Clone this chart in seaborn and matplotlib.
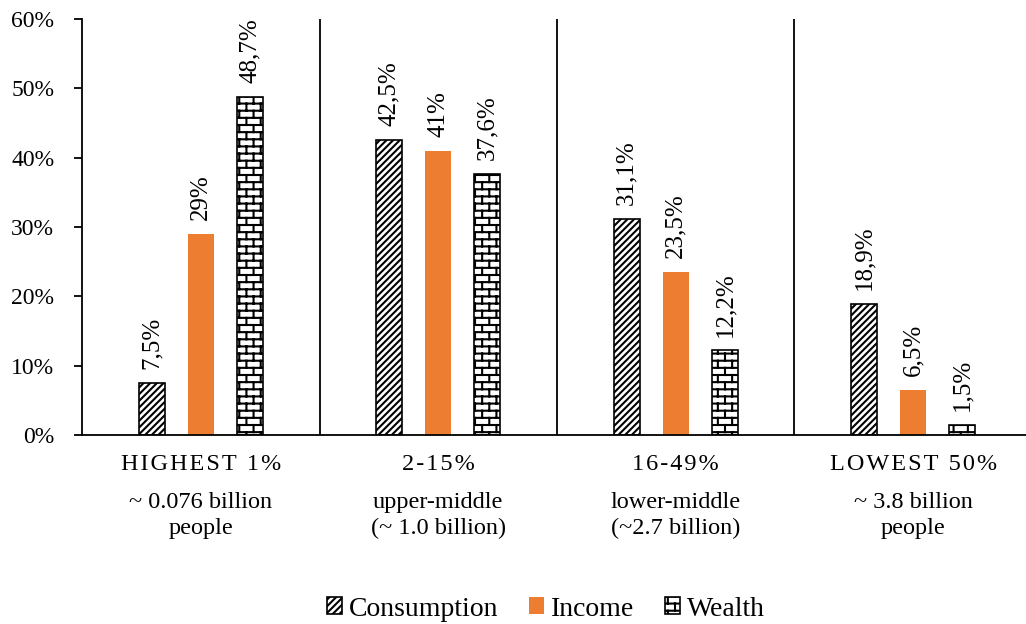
import warnings

import matplotlib
matplotlib.use("Agg")
import matplotlib.pyplot as plt
import matplotlib.hatch as mhatch
from matplotlib.path import Path
from matplotlib.ticker import FuncFormatter
import numpy as np
import pandas as pd
import seaborn as sns

warnings.filterwarnings("ignore")

# ---- data -----------------------------------------------------------------
groups = ["HIGHEST 1%", "2-15%", "16-49%", "LOWEST 50%"]
group_notes = [
    "~ 0.076 billion\npeople",
    "upper-middle\n(~ 1.0 billion)",
    "lower-middle\n(~2.7 billion)",
    "~ 3.8 billion\npeople",
]
measures = ["Consumption", "Income", "Wealth"]
consumption = [7.5, 42.5, 31.1, 18.9]
income = [29.0, 41.0, 23.5, 6.5]
wealth = [48.7, 37.6, 12.2, 1.5]
y_ticks = [0, 10, 20, 30, 40, 50, 60]


# ---- brick hatch ('b') ----------------------------------------------------
class BrickHatch(mhatch.HatchPatternBase):
    """Staggered brick courses: horizontal mortar lines plus offset joints."""

    def __init__(self, hatch, density):
        n = hatch.count("b")
        self.rows = 14 * n
        self.cols = 7
        if n:
            self.num_vertices = 2 * self.rows + 2 * (self.rows + 1) * self.cols
        else:
            self.num_vertices = 0

    def set_vertices_and_codes(self, vertices, codes):
        k = 0
        R, C = self.rows, self.cols
        for i in range(R):
            y = (i + 0.5) / R
            vertices[k] = (0.0, y)
            vertices[k + 1] = (1.0, y)
            codes[k] = Path.MOVETO
            codes[k + 1] = Path.LINETO
            k += 2
        for i in range(-1, R):
            y0 = (i + 0.5) / R
            y1 = (i + 1.5) / R
            shift = 0.5 * (i % 2)
            for j in range(C):
                x = (j + 0.25 + shift) / C
                vertices[k] = (x, y0)
                vertices[k + 1] = (x, y1)
                codes[k] = Path.MOVETO
                codes[k + 1] = Path.LINETO
                k += 2


mhatch._hatch_types.append(BrickHatch)

# ---- style ----------------------------------------------------------------
sns.set_theme(style="ticks")
plt.rcParams["font.family"] = ["Liberation Serif", "DejaVu Serif"]
plt.rcParams["hatch.linewidth"] = 1.5
plt.rcParams["hatch.color"] = "black"
for key in ("text.color", "axes.labelcolor", "xtick.color", "ytick.color",
            "axes.edgecolor"):
    plt.rcParams[key] = "black"

ORANGE = "#ED7D31"
face = {"Consumption": "white", "Income": ORANGE, "Wealth": "white"}
edge = {"Consumption": "black", "Income": ORANGE, "Wealth": "black"}
hatch = {"Consumption": "/////", "Income": None, "Wealth": "b"}

df = pd.DataFrame({
    "group": np.repeat(groups, len(measures)),
    "measure": measures * len(groups),
    "share": np.column_stack([consumption, income, wealth]).ravel(),
})

fig = plt.figure(figsize=(10.26, 6.24), dpi=100)
ax = fig.add_axes([82 / 1026, 189 / 624, 944 / 1026, 416 / 624])

sns.barplot(
    data=df, x="group", y="share", hue="measure",
    order=groups, hue_order=measures,
    palette=[face[m] for m in measures], saturation=1,
    width=0.62, gap=0.47, legend=False, ax=ax,
)

for cont, m in zip(ax.containers, measures):
    for bar in cont:
        bar.set_facecolor(face[m])
        bar.set_edgecolor(edge[m])
        bar.set_linewidth(1.2 if m != "Income" else 0)
        bar.set_hatch(hatch[m])
        v = bar.get_height()
        label = f"{v:g}".replace(".", ",") + "%"
        ax.annotate(
            label, (bar.get_x() + bar.get_width() / 2, v),
            xytext=(0, 10), textcoords="offset points",
            rotation=90, ha="center", va="bottom", fontsize=18,
        )

# group separators
for x in np.arange(0.5, len(groups) - 1, 1.0):
    ax.axvline(x, color="black", lw=1.3, zorder=0)

ax.set_xlim(-0.5, -0.5 + 944 / 237.5)
ax.set_ylim(0, 60)
ax.set_yticks(y_ticks)
ax.yaxis.set_major_formatter(FuncFormatter(lambda v, _: f"{v:.0f}%"))
ax.tick_params(axis="y", labelsize=17, length=6, width=1.3, pad=14)

# letter-spaced group names as tick labels
spaced = ["\u200a".join(g) for g in groups]
ax.set_xticks(range(len(groups)))
ax.set_xticklabels(spaced)
ax.tick_params(axis="x", length=0, labelsize=17.5, pad=14)

# population notes below the group names
trans = ax.get_xaxis_transform()
for i, note in enumerate(group_notes):
    ax.text(i, -0.138, note, transform=trans, ha="center", va="top",
            fontsize=17.5, linespacing=1.3)

ax.set_xlabel("")
ax.set_ylabel("")
sns.despine(ax=ax)
for side in ("left", "bottom"):
    ax.spines[side].set_linewidth(1.3)

fig.legend(
    ax.containers, measures, loc="center",
    bbox_to_anchor=(546 / 1026, 1 - 609 / 624), ncol=3, frameon=False,
    fontsize=20, handlelength=0.55, handleheight=0.55, handletextpad=0.25,
    columnspacing=1.1,
)

fig.savefig("out.png", dpi=100)
